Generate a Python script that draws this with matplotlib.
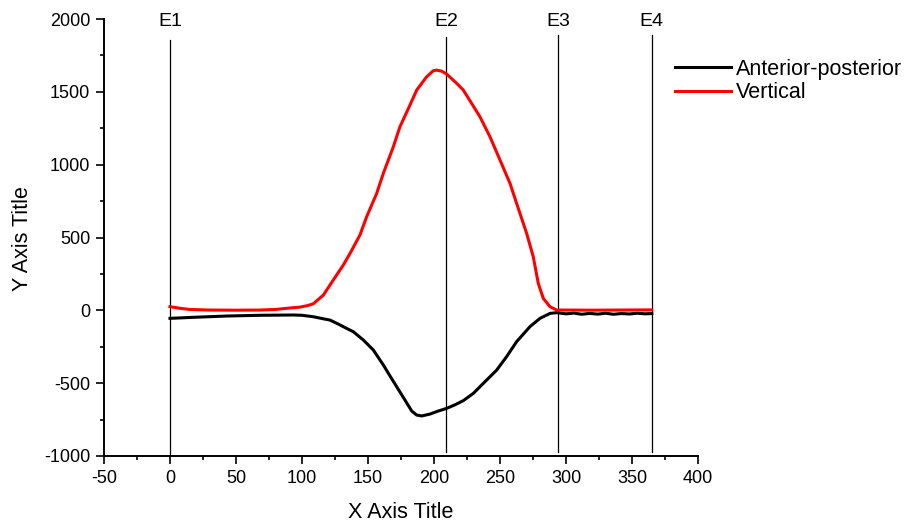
import matplotlib
matplotlib.use("Agg")
import matplotlib.pyplot as plt
from matplotlib.ticker import MultipleLocator

plt.rcParams['font.family'] = ['Liberation Sans', 'DejaVu Sans']
plt.rcParams['axes.unicode_minus'] = False

# anterior-posterior force trace
ap_x = [0, 17.7, 43, 68.2, 93.4, 100, 108.6, 115, 121.2, 127, 133.8, 138.9, 146.5, 154,
        161.6, 166.5, 171.7, 178, 183.1, 186.9, 190.7, 197, 203, 209.6, 216, 222.2,
        229.8, 237.4, 247.5, 255, 262.6, 272.7, 280.3, 287.9, 292.9, 300, 306, 312,
        318, 324, 330, 336, 342, 348, 354, 360, 365]
ap_y = [-55, -48, -39, -34, -32, -34, -44, -56, -67, -92, -124, -147, -204, -272,
        -375, -448, -524, -616, -691, -719, -725, -712, -692, -673, -648, -620,
        -570, -501, -410, -318, -215, -112, -55, -21, -16, -24, -19, -27, -21, -26,
        -20, -27, -22, -25, -20, -24, -22]

# vertical force trace
vert_x = [0, 7.6, 15, 30.3, 50, 68.2, 80, 88.4, 98.5, 104, 108.6, 116.2, 123.7,
          131.3, 136.4, 143.9, 149, 156.6, 161.6, 169.2, 174.2, 181.8, 186.9, 194.4,
          199.5, 202, 205.8, 209.6, 217.2, 222.2, 228.5, 234.8, 242.4, 250, 257.6,
          262.6, 270.2, 275.2, 279, 282.8, 287.9, 292.9, 300, 320, 340, 365]
vert_y = [25, 14, 6, 2, 1, 2, 6, 14, 22, 32, 45, 105, 208,
          311, 391, 517, 643, 803, 940, 1123, 1260, 1409, 1512, 1603,
          1645, 1649, 1642, 1622, 1558, 1512, 1421, 1329, 1192, 1032, 871,
          734, 528, 368, 185, 82, 25, 2, 2, 1, 2, 3]

# gait events
event_x = [0, 209, 294, 365]
event_labels = ['E1', 'E2', 'E3', 'E4']
event_top = [1856, 1876, 1890, 1890]

fig = plt.figure(figsize=(9.13, 5.29), dpi=100)
ax = fig.add_axes([104 / 913, 1 - 456 / 529, 594 / 913, 437 / 529])

ax.plot(ap_x, ap_y, color='black', lw=2.2, label='Anterior-posterior', zorder=3)
ax.plot(vert_x, vert_y, color='#ff0000', lw=2.2, label='Vertical', zorder=4)

for x, lab, top in zip(event_x, event_labels, event_top):
    ax.plot([x, x], [-1000 if x == 0 else -975, top], color='black', lw=0.9, zorder=2)
    ax.text(x, 1985, lab, ha='center', va='center', fontsize=14)

ax.set_xlim(-50, 400)
ax.set_ylim(-1000, 2000)
ax.xaxis.set_major_locator(MultipleLocator(50))
ax.xaxis.set_minor_locator(MultipleLocator(25))
ax.yaxis.set_major_locator(MultipleLocator(500))
ax.yaxis.set_minor_locator(MultipleLocator(250))
ax.tick_params(which='major', direction='out', length=6, width=1.2, labelsize=13, pad=4)
ax.tick_params(which='minor', direction='out', length=3, width=1.2)

for side in ['top', 'right']:
    ax.spines[side].set_visible(False)
for side in ['left', 'bottom']:
    ax.spines[side].set_linewidth(1.4)

fig.text(401 / 913, 1 - 513 / 529, 'X Axis Title', ha='center', va='center', fontsize=15.5)
fig.text(22 / 913, 1 - 239 / 529, 'Y Axis Title', ha='center', va='center',
         rotation=90, fontsize=15.5)

fig.legend(loc='upper left', bbox_to_anchor=(675 / 913, 1 - 59 / 529),
           bbox_transform=fig.transFigure, frameon=False, fontsize=15.5,
           handlelength=2.6, handletextpad=0.25, labelspacing=0.1,
           borderpad=0, borderaxespad=0)

fig.savefig('out.png', dpi=100)
